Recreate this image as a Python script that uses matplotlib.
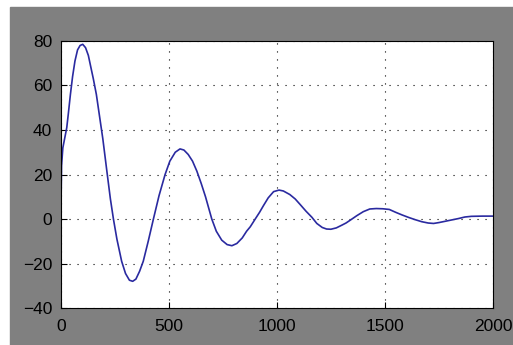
import matplotlib
matplotlib.use("Agg")
import matplotlib.pyplot as plt
from matplotlib.patches import Rectangle

# values
t = [0, 2, 4, 10, 20, 28, 35, 45, 55, 66, 78, 90, 102, 115, 128, 140,
     151, 165, 180, 195, 213, 230, 244, 260, 282, 300, 318, 333, 348,
     365, 382, 405, 429, 455, 483, 505, 530, 552, 570, 590, 610, 630,
     650, 670, 699, 720, 745, 770, 792, 815, 840, 860, 877, 900, 920, 938,
     960, 985, 1010, 1030, 1060, 1085, 1108, 1135, 1162, 1185, 1210,
     1230, 1250, 1275, 1300, 1320, 1340, 1370, 1400, 1430, 1460, 1490,
     1520, 1550, 1580, 1610, 1640, 1670, 1700, 1725, 1750, 1780, 1810,
     1840, 1870, 1900, 1950, 2000]
y = [0, 10, 24, 32, 37, 41, 47, 56, 64, 71, 76, 78, 78.5, 77, 73.5, 68,
     63, 56, 46, 36, 22, 9, 0, -9, -19, -24.5, -27.5, -28, -27,
     -23.5, -19, -10, 0, 10.5, 20, 26, 30, 31.5, 31, 29, 26, 21.5,
     16, 10, 0, -5.5, -9.5, -11.5, -12, -11, -8.5, -5.5, -3.5, 0, 3, 6,
     9.5, 12.3, 13, 12.6, 11, 9, 6.5, 3.5, 0.8, -2, -3.8,
     -4.5, -4.6, -4, -2.8, -1.8, -0.5, 1.5, 3.3, 4.5, 4.7, 4.6,
     4.3, 3, 1.8, 0.7, -0.3, -1.2, -1.8, -2, -1.6, -1, -0.4,
     0.2, 0.9, 1.2, 1.3, 1.3]

xticks = [0, 500, 1000, 1500, 2000]
yticks = [-40, -20, 0, 20, 40, 60, 80]

plt.rcParams['font.family'] = ['Liberation Sans', 'DejaVu Sans']

fig = plt.figure(figsize=(5.13, 3.45), dpi=100, facecolor='white')
# grey panel (white strip on left and top like the screenshot)
fig.patches.append(Rectangle((10 / 513, 0), 1, 1 - 7 / 345,
                             transform=fig.transFigure, color='#808080',
                             zorder=-5))

ax = fig.add_axes([0.1183, 0.1072, 0.961 - 0.1183, 0.8812 - 0.1072])
ax.set_facecolor('white')
ax.plot(t, y, color='#2a2aa0', lw=1.2)

ax.set_xlim(0, 2000)
ax.set_ylim(-40, 80)
ax.set_xticks(xticks)
ax.set_yticks(yticks)
ax.tick_params(direction='in', length=4, width=0.8, labelsize=12.5,
               colors='black', pad=6)
ax.tick_params(axis='x', pad=8)
ax.grid(True, color='black', lw=0.8, linestyle=(0, (1, 6.2)))
for s in ax.spines.values():
    s.set_linewidth(0.8)
    s.set_color('black')

fig.savefig('out.png', dpi=100, facecolor=fig.get_facecolor())
